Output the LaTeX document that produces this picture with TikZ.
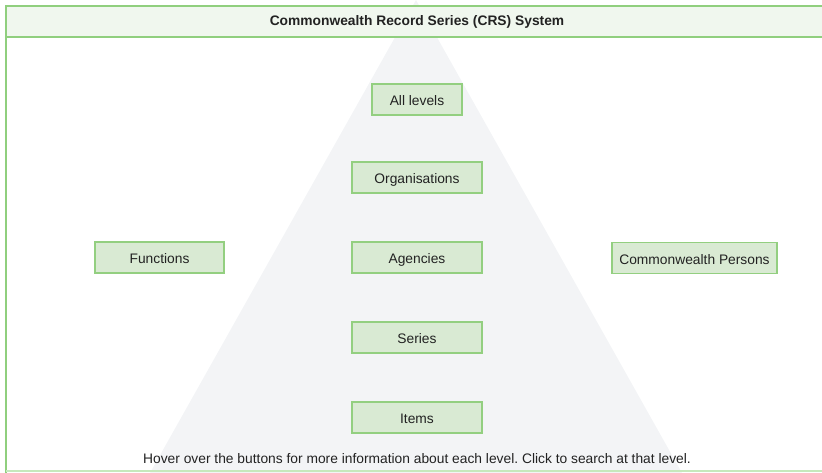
\documentclass[tikz,border=0pt]{standalone}
\usepackage{fontspec}
\setmainfont{Liberation Sans}
\frenchspacing
\definecolor{hdrfill}{HTML}{F0F7EE}
\definecolor{hdrline}{HTML}{90CF7E}
\definecolor{btnfill}{HTML}{D9EAD3}
\definecolor{btnline}{HTML}{93CF80}
\definecolor{pyr}{HTML}{F3F4F6}
\definecolor{botline}{HTML}{C6E8BC}
\definecolor{txt}{HTML}{222222}
\begin{document}
\begin{tikzpicture}[x=1pt,y=-1pt,
  btn/.style={draw=btnline,line width=1.3pt,fill=btnfill,minimum height=31pt,inner sep=0pt,
    text height=12.5pt,text depth=0pt,
    font=\fontsize{13.8}{16}\selectfont,text=txt},
  every node/.style={text=txt}]
\useasboundingbox (0,0) rectangle (822,473);
\clip (0,0) rectangle (822,473);
% pyramid
\fill[pyr] (416,0) -- (682,473) -- (150,473) -- cycle;
% header
\draw[hdrline,line width=2pt,fill=hdrfill] (6,6) rectangle (830,37);
\node (title) at (417,22) {\fontsize{13.8}{16}\selectfont\bfseries Commonwealth Record Series (CRS) System};
% frame
\draw[hdrline,line width=2pt] (6,37) -- (6,473);
\draw[botline,line width=2pt] (6,471) -- (830,471);
% buttons
\node[btn,minimum width=90pt] (all) at (417,99.5) {All levels};
\node[btn,minimum width=130pt] (org) at (417,177.5) {Organisations};
\node[btn,minimum width=130pt] (agn) at (417,257.5) {Agencies};
\node[btn,minimum width=130pt] (ser) at (417,337.5) {Series};
\node[btn,minimum width=130pt] (itm) at (417,417.5) {Items};
\node[btn,minimum width=129pt] (fun) at (159.5,257.5) {Functions};
\node[btn,minimum width=165pt] (per) at (694.5,258) {Commonwealth Persons};
% footer text
\node (foot) at (417,458.5) {\fontsize{13.8}{16}\selectfont Hover over the buttons for more information about each level. Click to search at that level.};
\end{tikzpicture}
\end{document}
